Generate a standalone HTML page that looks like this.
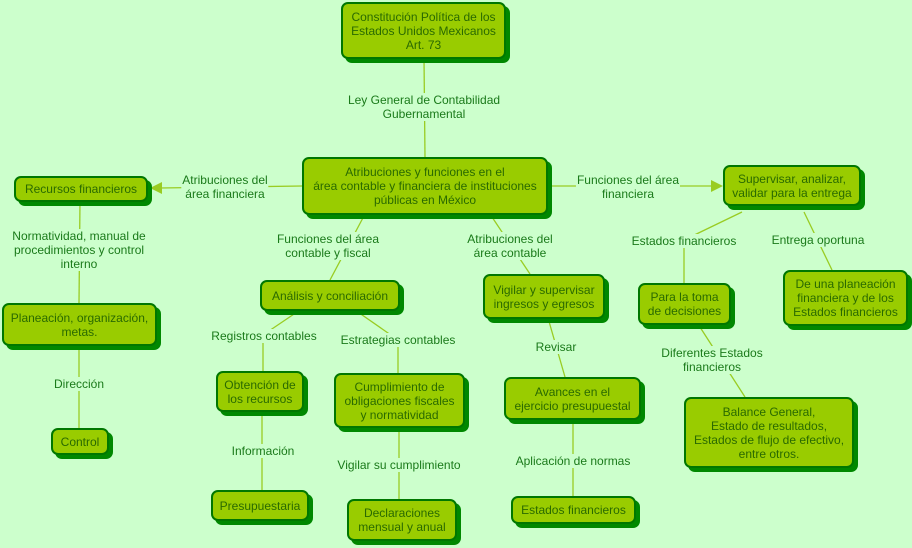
<!DOCTYPE html>
<html><head><meta charset="utf-8"><style>
body{margin:0;width:912px;height:548px;background:#ccffcc;position:relative;overflow:hidden;font-family:"Liberation Sans",sans-serif}
.n{position:absolute;box-sizing:border-box;background:#99cc00;border:2px solid #007700;border-radius:7px;box-shadow:4px 4px 0 #008800;color:#2a6a00;font-size:12px;line-height:14px;text-align:center;display:flex;align-items:center;justify-content:center}
.l{position:absolute;transform:translate(-50%,-50%);background:#ccffcc;color:#1a7a1a;font-size:12px;line-height:14px;text-align:center;white-space:nowrap;padding:0 1px}
svg{position:absolute;left:0;top:0}
</style></head><body>
<svg width="912" height="548" stroke="#99cc22" stroke-width="1.3" fill="none">
<line x1="424" y1="58" x2="425" y2="157"/>
<line x1="302" y1="186" x2="160" y2="188"/>
<polygon points="150,188 162,182 162,194" fill="#99cc22" stroke="none"/>
<line x1="547" y1="186" x2="712" y2="186"/>
<polygon points="723,186 711,180 711,192" fill="#99cc22" stroke="none"/>
<line x1="80" y1="201" x2="79" y2="303"/>
<line x1="79" y1="345" x2="79" y2="428"/>
<line x1="365" y1="214" x2="330" y2="280"/>
<line x1="490" y1="214" x2="530" y2="274"/>
<line x1="300" y1="310" x2="263" y2="335"/><line x1="263" y1="335" x2="263" y2="371"/>
<line x1="355" y1="310" x2="398" y2="340"/><line x1="398" y1="340" x2="398" y2="373"/>
<line x1="262" y1="411" x2="262" y2="490"/>
<line x1="399" y1="427" x2="399" y2="499"/>
<line x1="548" y1="318" x2="565" y2="377"/>
<line x1="573" y1="419" x2="573" y2="496"/>
<line x1="742" y1="212" x2="684" y2="240"/><line x1="684" y1="240" x2="684" y2="283"/>
<line x1="804" y1="212" x2="832" y2="270"/>
<line x1="698" y1="324" x2="745" y2="397"/>
</svg>
<div class="n" style="left:341px;top:2px;width:165px;height:57px">Constitución Política de los<br>Estados Unidos Mexicanos<br>Art. 73</div>
<div class="n" style="left:302px;top:157px;width:246px;height:58px">Atribuciones y funciones en el<br>área contable y financiera de instituciones<br>públicas en México</div>
<div class="n" style="left:14px;top:176px;width:134px;height:26px">Recursos financieros</div>
<div class="n" style="left:723px;top:165px;width:138px;height:41px">Supervisar, analizar,<br>validar para la entrega</div>
<div class="n" style="left:260px;top:280px;width:140px;height:31px">Análisis y conciliación</div>
<div class="n" style="left:483px;top:274px;width:122px;height:45px">Vigilar y supervisar<br>ingresos y egresos</div>
<div class="n" style="left:2px;top:303px;width:155px;height:43px">Planeación, organización,<br>metas.</div>
<div class="n" style="left:638px;top:283px;width:93px;height:42px">Para la toma<br>de decisiones</div>
<div class="n" style="left:783px;top:270px;width:125px;height:56px">De una planeación<br>financiera y de los<br>Estados financieros</div>
<div class="n" style="left:216px;top:371px;width:88px;height:41px">Obtención de<br>los recursos</div>
<div class="n" style="left:334px;top:373px;width:131px;height:55px">Cumplimiento de<br>obligaciones fiscales<br>y normatividad</div>
<div class="n" style="left:504px;top:377px;width:137px;height:43px">Avances en el<br>ejercicio presupuestal</div>
<div class="n" style="left:51px;top:428px;width:58px;height:27px">Control</div>
<div class="n" style="left:684px;top:397px;width:170px;height:71px">Balance General,<br>Estado de resultados,<br>Estados de flujo de efectivo,<br>entre otros.</div>
<div class="n" style="left:211px;top:490px;width:98px;height:31px">Presupuestaria</div>
<div class="n" style="left:347px;top:499px;width:110px;height:42px">Declaraciones<br>mensual y anual</div>
<div class="n" style="left:511px;top:496px;width:125px;height:28px">Estados financieros</div>
<div class="l" style="left:424px;top:107px">Ley General de Contabilidad<br>Gubernamental</div>
<div class="l" style="left:225px;top:187px">Atribuciones del<br>área financiera</div>
<div class="l" style="left:628px;top:187px">Funciones del área<br>financiera</div>
<div class="l" style="left:79px;top:250px">Normatividad, manual de<br>procedimientos y control<br>interno</div>
<div class="l" style="left:328px;top:246px">Funciones del área<br>contable y fiscal</div>
<div class="l" style="left:510px;top:246px">Atribuciones del<br>área contable</div>
<div class="l" style="left:684px;top:241px">Estados financieros</div>
<div class="l" style="left:818px;top:240px">Entrega oportuna</div>
<div class="l" style="left:79px;top:384px">Dirección</div>
<div class="l" style="left:264px;top:336px">Registros contables</div>
<div class="l" style="left:398px;top:340px">Estrategias contables</div>
<div class="l" style="left:556px;top:347px">Revisar</div>
<div class="l" style="left:712px;top:360px">Diferentes Estados<br>financieros</div>
<div class="l" style="left:263px;top:451px">Información</div>
<div class="l" style="left:399px;top:465px">Vigilar su cumplimiento</div>
<div class="l" style="left:573px;top:461px">Aplicación de normas</div>
</body></html>
